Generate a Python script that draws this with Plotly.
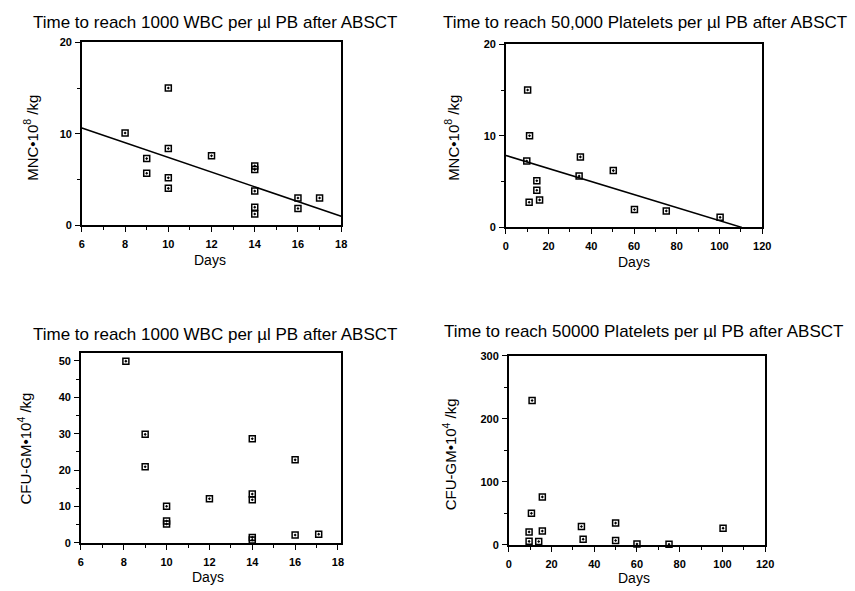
import plotly.graph_objects as go

W, H = 855, 591

# ---- data ----
p1_days = [8, 9, 9, 10, 10, 10, 10, 12, 14, 14, 14, 14, 14, 16, 16, 17]
p1_mnc = [10.1, 7.3, 5.7, 15.0, 8.4, 5.2, 4.05, 7.6, 6.5, 6.1, 3.75, 2.0, 1.25, 3.0, 1.85, 3.0]
p1_fit_days = [6, 18]
p1_fit_mnc = [10.65, 1.0]

p2_days = [10.2, 11.1, 9.8, 14.5, 14.5, 15.8, 10.9, 34.9, 34.3, 50.3, 60.2, 75.1, 100.3]
p2_mnc = [15.0, 10.0, 7.25, 5.1, 4.05, 3.0, 2.75, 7.7, 5.6, 6.2, 1.95, 1.8, 1.1]
p2_fit_days = [0, 110.5]
p2_fit_mnc = [7.86, 0]

p3_days = [8.1, 9, 9, 10, 10, 10, 12, 14, 14, 14, 14, 14, 16, 16, 17.1]
p3_cfu = [49.9, 29.8, 20.9, 10.05, 6.0, 5.2, 12.1, 28.6, 13.4, 11.85, 1.5, 0.8, 22.8, 2.15, 2.4]

p4_days = [10.9, 15.7, 10.6, 9.5, 9.5, 14, 15.7, 34, 34.8, 50, 50, 60, 75, 100.3]
p4_cfu = [229, 76, 50, 20.5, 5.5, 5.2, 21.8, 29, 9, 34.5, 6.8, 1.2, 1.0, 26.5]

titles = [
    "Time to reach 1000 WBC per \u00b5l PB after ABSCT",
    "Time to reach 50,000 Platelets per \u00b5l PB after ABSCT",
    "Time to reach 1000 WBC per \u00b5l PB after ABSCT",
    "Time to reach 50000 Platelets per \u00b5l PB after ABSCT",
]
ytitles = [
    "MNC\u202210<sup>8</sup> /kg",
    "MNC\u202210<sup>8</sup> /kg",
    "CFU-GM\u202210<sup>4</sup> /kg",
    "CFU-GM\u202210<sup>4</sup> /kg",
]
xtitle = "Days"

# ---- layout geometry (pixels) ----
boxes = [  # left, right, top, bottom
    (80, 343, 37, 224),
    (510, 770, 39, 226),
    (79, 343, 354, 548),
    (513, 773, 357, 550),
]
xranges = [[6, 18], [0, 120], [6, 18.15], [0, 120]]
yranges = [[0, 20], [0, 20], [0, 52.2], [0, 300]]
xdt = [(2, 1), (20, 10), (2, 1), (20, 10)]
ydt = [(10, 5), (10, 5), (10, 5), (100, 50)]
title_pos = [(215, 17), (651, 17), (215, 335), (650, 332)]
ytitle_pos = [(28, 135), (455, 135), (22, 452), (453, 458)]
xtitle_pos = [(210, 259), (640, 261), (208, 583), (640, 584)]

FONT = "Liberation Sans, Arial, Helvetica, sans-serif"

fig = go.Figure()

marker = dict(symbol="square-open-dot", size=6, color="black", line=dict(width=1.5, color="black"))

series = [(p1_days, p1_mnc), (p2_days, p2_mnc), (p3_days, p3_cfu), (p4_days, p4_cfu)]
for i, (xs, ys) in enumerate(series):
    ax = "" if i == 0 else str(i + 1)
    fig.add_trace(go.Scatter(x=xs, y=ys, mode="markers", marker=marker,
                             xaxis="x" + ax, yaxis="y" + ax, cliponaxis=False,
                             showlegend=False))

fig.add_trace(go.Scatter(x=p1_fit_days, y=p1_fit_mnc, mode="lines",
                         line=dict(color="black", width=1.6), xaxis="x", yaxis="y",
                         showlegend=False))
fig.add_trace(go.Scatter(x=p2_fit_days, y=p2_fit_mnc, mode="lines",
                         line=dict(color="black", width=1.6), xaxis="x2", yaxis="y2",
                         showlegend=False))

layout = dict(
    width=W, height=H,
    margin=dict(l=0, r=0, t=0, b=0),
    paper_bgcolor="white", plot_bgcolor="white",
    font=dict(family=FONT, color="black"),
    showlegend=False,
)

annotations = []
for i in range(4):
    l, r, t, b = boxes[i]
    ax = "" if i == 0 else str(i + 1)
    common = dict(showline=True, linecolor="black", linewidth=1.5, mirror=True,
                  showgrid=False, zeroline=False, ticks="outside", ticklen=5,
                  tickwidth=1.2, tickcolor="black",
                  tickfont=dict(family=FONT, size=11, color="black", weight="bold"))
    layout["xaxis" + ax] = dict(
        domain=[l / W, r / W], range=xranges[i], anchor="y" + ax,
        dtick=xdt[i][0], tick0=0, ticklabelstandoff=3,
        minor=dict(dtick=xdt[i][1], ticks="outside", ticklen=3, tickcolor="black", tickwidth=1),
        **common)
    layout["yaxis" + ax] = dict(
        domain=[1 - b / H, 1 - t / H], range=yranges[i], anchor="x" + ax,
        dtick=ydt[i][0], tick0=0, ticklabelstandoff=1,
        minor=dict(dtick=ydt[i][1], ticks="outside", ticklen=3, tickcolor="black", tickwidth=1),
        **common)
    tx, ty = title_pos[i]
    annotations.append(dict(text=titles[i], x=tx / W, y=1 - ty / H, xref="paper", yref="paper",
                            showarrow=False, xanchor="center", yanchor="middle",
                            font=dict(family=FONT, size=17, color="black")))
    yx, yy = ytitle_pos[i]
    annotations.append(dict(text=ytitles[i], x=yx / W, y=1 - yy / H, xref="paper", yref="paper",
                            showarrow=False, xanchor="center", yanchor="middle", textangle=-90,
                            font=dict(family=FONT, size=15, color="black")))
    dx, dy = xtitle_pos[i]
    annotations.append(dict(text=xtitle, x=dx / W, y=1 - dy / H, xref="paper", yref="paper",
                            showarrow=False, xanchor="center", yanchor="middle",
                            font=dict(family=FONT, size=14, color="black")))

layout["annotations"] = annotations
fig.update_layout(**layout)
fig.write_html("out.html", config={"displayModeBar": False},
               post_script="document.body.style.margin='0';document.body.style.padding='0';")
